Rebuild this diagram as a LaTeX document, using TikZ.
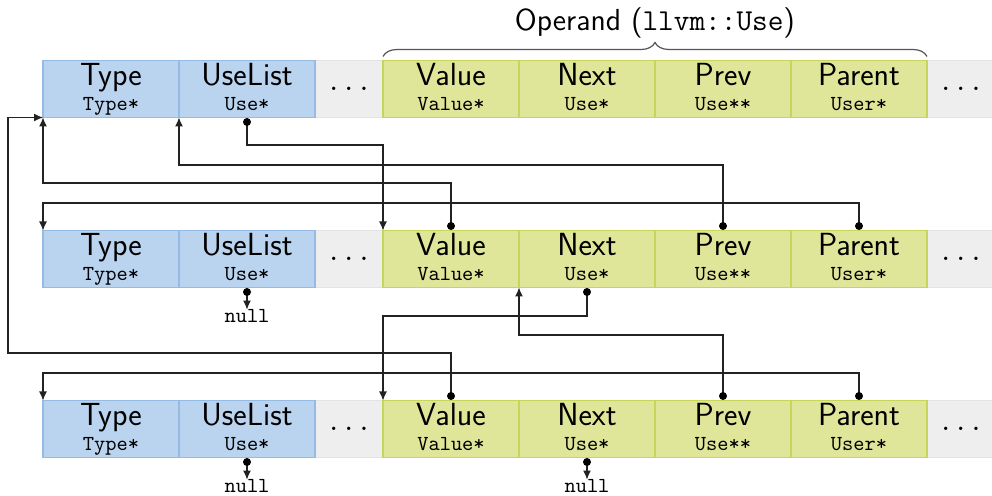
\documentclass[tikz,border=0pt]{standalone}
\usepackage{fontspec}
\usetikzlibrary{arrows.meta,decorations.pathreplacing}
\definecolor{bluefill}{HTML}{BAD3EE}
\definecolor{blueline}{HTML}{93BBE4}
\definecolor{greenfill}{HTML}{DFE69A}
\definecolor{greenline}{HTML}{C5D65A}
\definecolor{greyfill}{HTML}{EEEEEE}
\definecolor{greyline}{HTML}{E3E3E3}
\definecolor{wire}{HTML}{222222}
\definecolor{bracecol}{HTML}{555555}
\tikzset{
  cellbase/.style={rectangle, minimum width=68pt, minimum height=28.5pt, inner sep=0pt, outer sep=0pt, line width=0.6pt},
  bluecell/.style={cellbase, fill=bluefill, draw=blueline},
  greencell/.style={cellbase, fill=greenfill, draw=greenline},
  greycell/.style={cellbase, minimum width=34pt, fill=greyfill, draw=greyline, font=\fontsize{16}{19}\selectfont},
  maintext/.style={inner sep=0pt, font=\fontsize{16}{19}\selectfont\sffamily},
  labeltext/.style={inner sep=0pt, font=\fontsize{15.2}{18}\selectfont\sffamily},
  monotext/.style={inner sep=0pt, font=\fontsize{10.7}{12}\selectfont\ttfamily},
  ptr/.style={draw=wire, line width=0.6pt, -{Latex[length=4.5pt,width=4pt]}},
  ptrdot/.style={fill=black},
  bracestyle/.style={draw=bracecol, line width=0.6pt, decorate, decoration={brace, amplitude=7pt}},
}
\newcommand\fieldcell[6]{%
  \node[#4, anchor=north west] (#1) at (#2,#3) {};
  \node[maintext, anchor=base] (#1-a) at ([yshift=-12.3pt]#1.north) {#5};
  \node[monotext, anchor=base] (#1-b) at ([yshift=-25.1pt]#1.north) {#6};
}
\newcommand\objrow[2]{%
  \node[greycell, anchor=north west] (#1dots) at (315,#2) {$\ldots$};
  \node[greycell, anchor=north west] (#1end) at (927,#2) {$\ldots$};
  \fieldcell{#1type}{43}{#2}{bluecell}{Type}{Type*}
  \fieldcell{#1use}{179}{#2}{bluecell}{UseList}{Use*}
  \fieldcell{#1val}{383}{#2}{greencell}{Value}{Value*}
  \fieldcell{#1next}{519}{#2}{greencell}{Next}{Use*}
  \fieldcell{#1prev}{655}{#2}{greencell}{Prev}{Use**}
  \fieldcell{#1par}{791}{#2}{greencell}{Parent}{User*}
}
\begin{document}
\begin{tikzpicture}[x=0.5pt,y=-0.5pt]
\useasboundingbox (0,0) rectangle (992,496);
\objrow{ra}{60.5}
\objrow{rb}{230.5}
\objrow{rc}{400.5}
% brace and label
\draw[bracestyle] ([yshift=2pt]raval.north west) -- ([yshift=2pt]rapar.north east);
\node[labeltext, anchor=base] (operand) at (655,31) {Operand (\texttt{llvm::Use})};
% lanes
\coordinate (L1) at (0,145);
\coordinate (L2) at (0,165);
\coordinate (L3) at (0,183);
\coordinate (L4) at (0,203);
\coordinate (L5) at (0,316);
\coordinate (L6) at (0,335);
\coordinate (L7) at (0,353);
\coordinate (L8) at (0,373);
\coordinate (rail) at (8,0);
% dot anchors
\coordinate (d1u) at ([yshift=-2.25pt]rause.south);
\coordinate (d2v) at ([yshift=2.25pt]rbval.north);
\coordinate (d2p) at ([yshift=2.25pt]rbprev.north);
\coordinate (d2r) at ([yshift=2.25pt]rbpar.north);
\coordinate (d2u) at ([yshift=-2.25pt]rbuse.south);
\coordinate (d2n) at ([yshift=-2.25pt]rbnext.south);
\coordinate (d3v) at ([yshift=2.25pt]rcval.north);
\coordinate (d3p) at ([yshift=2.25pt]rcprev.north);
\coordinate (d3r) at ([yshift=2.25pt]rcpar.north);
\coordinate (d3u) at ([yshift=-2.25pt]rcuse.south);
\coordinate (d3n) at ([yshift=-2.25pt]rcnext.south);
% null labels
\node[monotext, anchor=base] (null2) at ([yshift=-17.75pt]rbuse.south) {null};
\node[monotext, anchor=base] (null3a) at ([yshift=-17.75pt]rcuse.south) {null};
\node[monotext, anchor=base] (null3b) at ([yshift=-17.75pt]rcnext.south) {null};
% connectors
\draw[ptr] (d1u) -- (d1u |- L1) -| (rbval.north west);
\draw[ptr] (d2p) -- (d2p |- L2) -| (rause.south west);
\draw[ptr] (d2v) -- (d2v |- L3) -| (ratype.south west);
\draw[ptr] (d2r) -- (d2r |- L4) -| (rbtype.north west);
\draw[ptr] (d2n) -- (d2n |- L5) -| (rcval.north west);
\draw[ptr] (d3p) -- (d3p |- L6) -| (rbnext.south west);
\draw[ptr] (d3v) -- (d3v |- L7) -- (rail |- L7) |- (ratype.south west);
\draw[ptr] (d3r) -- (d3r |- L8) -| (rctype.north west);
\draw[ptr] (d2u) -- (null2.north);
\draw[ptr] (d3u) -- (null3a.north);
\draw[ptr] (d3n) -- (null3b.north);
% dots
\foreach \d in {d1u,d2v,d2p,d2r,d2u,d2n,d3v,d3p,d3r,d3u,d3n}
  \fill[ptrdot] (\d) circle[radius=2pt];
\end{tikzpicture}
\end{document}
